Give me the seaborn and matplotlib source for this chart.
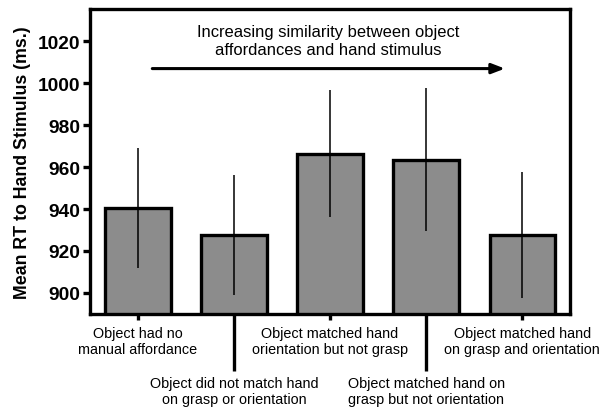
import matplotlib
matplotlib.use("Agg")
import matplotlib.pyplot as plt
import seaborn as sns
import pandas as pd

# Mean reaction times and error bar half-lengths per condition
conditions = [
    "Object had no\nmanual affordance",
    "Object did not match hand\non grasp or orientation",
    "Object matched hand\norientation but not grasp",
    "Object matched hand on\ngrasp but not orientation",
    "Object matched hand\non grasp and orientation",
]
mean_rt = [940.5, 927.7, 966.3, 963.5, 927.6]
rt_err = [28.7, 28.6, 30.3, 34.2, 30.2]

sns.set_theme(style="white")
plt.rcParams["font.family"] = ["Liberation Sans", "DejaVu Sans"]
plt.rcParams.update({"text.color": "black", "axes.labelcolor": "black",
                     "xtick.color": "black", "ytick.color": "black"})

df = pd.DataFrame({"condition": conditions, "rt": mean_rt})

fig = plt.figure(figsize=(5.99, 4.10), dpi=100)
ax = fig.add_axes([0.150, 0.232, 0.802, 0.744])

sns.barplot(data=df, x="condition", y="rt", color="#8c8c8c", saturation=1,
            width=0.68, edgecolor="black", linewidth=2.4, ax=ax, errorbar=None)
ax.errorbar(range(len(conditions)), mean_rt, yerr=rt_err, fmt="none",
            ecolor="black", elinewidth=1.1, capsize=0, zorder=5)

ax.set_xlim(-0.5, 4.5)
ax.set_ylim(890, 1035.5)
ax.set_yticks([900, 920, 940, 960, 980, 1000, 1020])
ax.tick_params(axis="y", which="major", direction="out", length=5, width=2.4,
               labelsize=13.8, pad=2, left=True)
for lbl in ax.get_yticklabels():
    lbl.set_fontweight("bold")

# Staggered category labels: outer conditions on short ticks, inner ones on long ticks
ax.set_xticks([0, 2, 4], labels=[conditions[i] for i in (0, 2, 4)])
ax.set_xticks([1, 3], labels=[conditions[i] for i in (1, 3)], minor=True)
ax.tick_params(axis="x", which="major", direction="out", length=4.5, width=2.4,
               labelsize=10.4, pad=4, bottom=True)
ax.tick_params(axis="x", which="minor", direction="out", length=41, width=2.4,
               labelsize=10.4, pad=3.5, bottom=True)
for lbl in ax.get_xticklabels(minor=False) + ax.get_xticklabels(minor=True):
    lbl.set_linespacing(1.25)
ax.set_xlabel("")
ax.set_ylabel("Mean RT to Hand Stimulus (ms.)", fontsize=12.8, fontweight="bold",
              labelpad=5)

for side in ["left", "right", "top", "bottom"]:
    ax.spines[side].set_visible(True)
    ax.spines[side].set_linewidth(2.4)
    ax.spines[side].set_color("black")

ax.text(1.98, 1020.2, "Increasing similarity between object\naffordances and hand stimulus",
        ha="center", va="center", fontsize=11.9, linespacing=1.25)
ax.annotate("", xy=(3.82, 1007), xytext=(0.15, 1007),
            arrowprops=dict(arrowstyle="-|>,head_length=0.65,head_width=0.25",
                            color="black", lw=2.2, shrinkA=0, shrinkB=0))

fig.savefig("out.png", dpi=100)
